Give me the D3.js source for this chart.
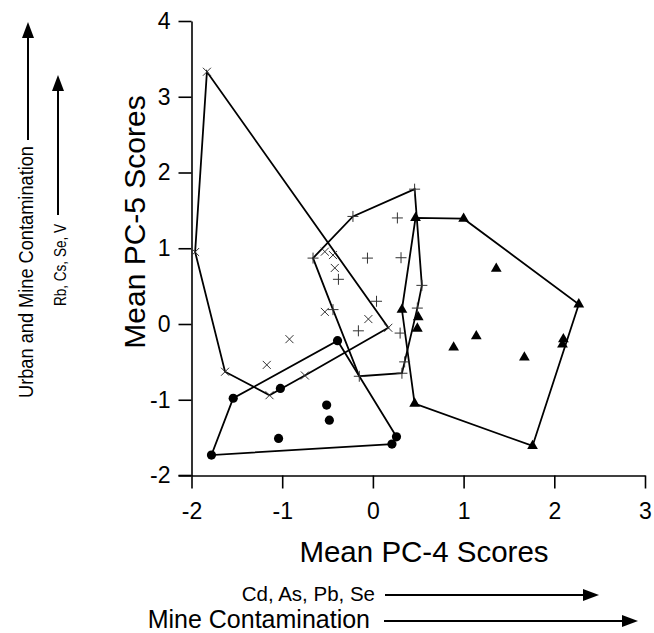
<!DOCTYPE html>
<html><head><meta charset="utf-8">
<script src="https://cdn.jsdelivr.net/npm/d3@7"></script>
<style>
body{margin:0;background:#fff}
svg{display:block}
text{font-family:"Liberation Sans",Arial,Helvetica,sans-serif;fill:#000}
</style>
</head><body>
<svg id="chart" width="654" height="633"></svg>
<script>
// ---- data ----
const xTicks = [-2, -1, 0, 1, 2, 3];
const yTicks = [-2, -1, 0, 1, 2, 3, 4];

const crossPoints = [
  [-1.83, 3.33], [-1.96, 0.95], [-1.63, -0.63], [-1.14, -0.94], [-1.17, -0.54],
  [-0.92, -0.20], [-0.75, -0.68], [-0.53, 0.16], [-0.53, 0.955], [-0.44, 0.91],
  [-0.42, 0.74], [-0.05, 0.065], [0.17, -0.05]
];
const plusPoints = [
  [-0.66, 0.87], [-0.22, 1.42], [0.46, 1.78], [0.27, 1.40], [-0.06, 0.87],
  [0.31, 0.875], [-0.38, 0.59], [0.54, 0.51], [0.04, 0.30], [-0.44, 0.19],
  [0.49, 0.21], [-0.16, -0.09], [0.30, -0.12], [0.35, -0.50], [0.32, -0.65],
  [-0.15, -0.69]
];
const circlePoints = [
  [-1.78, -1.73], [-1.54, -0.98], [-1.02, -0.85], [-0.39, -0.22], [-0.51, -1.07],
  [-0.48, -1.27], [-1.04, -1.51], [0.26, -1.49], [0.21, -1.585]
];
const trianglePoints = [
  [0.47, 1.40], [1.00, 1.39], [1.36, 0.73], [2.27, 0.26], [0.32, 0.19],
  [0.50, 0.09], [0.49, -0.06], [1.14, -0.16], [0.89, -0.31], [2.10, -0.20],
  [2.09, -0.27], [1.67, -0.44], [0.46, -1.05], [1.76, -1.61]
];

const xTitle = "Mean PC-4 Scores";
const yTitle = "Mean PC-5 Scores";
const xNote1 = "Cd, As, Pb, Se";
const xNote2 = "Mine Contamination";
const yNote1 = "Rb, Cs, Se, V";
const yNote2 = "Urban and Mine Contamination";

// ---- chart ----
const svg = d3.select("#chart");
const x = d3.scaleLinear().domain([-2, 3]).range([191.5, 645]);
const y = d3.scaleLinear().domain([-2, 4]).range([475.5, 21]);

// axes
const xAxis = d3.axisBottom(x).tickValues(xTicks).tickSize(13).tickSizeOuter(0).tickPadding(14)
  .tickFormat(d3.format("d"));
const yAxis = d3.axisLeft(y).tickValues(yTicks).tickSize(13).tickSizeOuter(0).tickPadding(8)
  .tickFormat(d3.format("d"));

const gx = svg.append("g").attr("transform", `translate(0,${y(-2)})`).call(xAxis);
const gy = svg.append("g").attr("transform", `translate(${x(-2)},0)`).call(yAxis);
[gx, gy].forEach(g => {
  g.select(".domain").attr("stroke", "#000").attr("stroke-width", 1.6);
  g.selectAll(".tick line").attr("stroke", "#000").attr("stroke-width", 1.6);
  g.selectAll(".tick text").attr("font-size", 23).attr("fill", "#000")
    .attr("font-family", '"Liberation Sans",Arial,sans-serif')
    .text(d => d < 0 ? "-" + Math.abs(d) : d);
});
gx.append("line").attr("x1", x(-2) - 13).attr("x2", x(-2)).attr("y1", 0).attr("y2", 0)
  .attr("stroke", "#000").attr("stroke-width", 1.6);

// hulls
const groups = [crossPoints, plusPoints, circlePoints, trianglePoints];
const line = d3.line().x(d => x(d[0])).y(d => y(d[1])).curve(d3.curveLinearClosed);
svg.append("g").selectAll("path").data(groups).join("path")
  .attr("d", pts => line(d3.polygonHull(pts)))
  .attr("fill", "none").attr("stroke", "#000").attr("stroke-width", 1.8)
  .attr("stroke-linejoin", "miter");

// markers
svg.append("g").selectAll("path").data(crossPoints).join("path")
  .attr("transform", d => `translate(${x(d[0])},${y(d[1])})`)
  .attr("d", "M-4,-4L4,4M-4,4L4,-4")
  .attr("stroke", "#333").attr("stroke-width", 1).attr("fill", "none");
svg.append("g").selectAll("path").data(plusPoints).join("path")
  .attr("transform", d => `translate(${x(d[0])},${y(d[1])})`)
  .attr("d", "M-5.5,0H5.5M0,-5.5V5.5")
  .attr("stroke", "#333").attr("stroke-width", 1).attr("fill", "none");
svg.append("g").selectAll("circle").data(circlePoints).join("circle")
  .attr("cx", d => x(d[0])).attr("cy", d => y(d[1])).attr("r", 4.6).attr("fill", "#000");
const tri = d3.symbol().type(d3.symbolTriangle).size(50);
svg.append("g").selectAll("path").data(trianglePoints).join("path")
  .attr("transform", d => `translate(${x(d[0])},${y(d[1])})`)
  .attr("d", tri).attr("fill", "#000");

// titles
svg.append("text").attr("x", 424).attr("y", 562).attr("text-anchor", "middle")
  .attr("font-size", 29.5).text(xTitle);
svg.append("text").attr("transform", "translate(145,222) rotate(-90)")
  .attr("text-anchor", "middle").attr("font-size", 30).text(yTitle);

function arrow(x1, y1, x2, y2, hl, hw) {
  const ang = Math.atan2(y2 - y1, x2 - x1);
  const bx = x2 - hl * Math.cos(ang), by = y2 - hl * Math.sin(ang);
  svg.append("line").attr("x1", x1).attr("y1", y1).attr("x2", bx).attr("y2", by)
    .attr("stroke", "#000").attr("stroke-width", 2);
  const px = -Math.sin(ang) * hw, py = Math.cos(ang) * hw;
  svg.append("path").attr("d", `M${x2},${y2}L${bx + px},${by + py}L${bx - px},${by - py}Z`).attr("fill", "#000");
}

// bottom annotations
svg.append("text").attr("x", 375).attr("y", 601).attr("text-anchor", "end").attr("font-size", 20.5).text(xNote1);
arrow(385, 595, 599, 595, 16, 6);
svg.append("text").attr("x", 370).attr("y", 628).attr("text-anchor", "end").attr("font-size", 25).text(xNote2);
arrow(384, 621, 638, 621, 16, 6);

// left annotations
svg.append("text").attr("transform", "translate(33,146) rotate(-90)").attr("text-anchor", "end")
  .attr("font-size", 21).attr("textLength", 252).attr("lengthAdjust", "spacingAndGlyphs").text(yNote2);
arrow(28, 140, 28, 22, 16, 6);
svg.append("text").attr("transform", "translate(66,224) rotate(-90)").attr("text-anchor", "end")
  .attr("font-size", 17).attr("textLength", 82).attr("lengthAdjust", "spacingAndGlyphs").text(yNote1);
arrow(58, 215, 58, 75, 16, 6);
</script>
</body></html>
